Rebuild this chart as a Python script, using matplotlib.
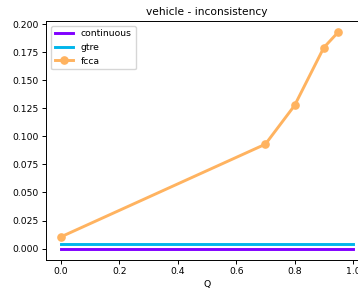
import matplotlib
matplotlib.use('Agg')
import matplotlib.pyplot as plt

q_flat = [0.0, 1.0]
continuous = [0.0, 0.0]
gtre = [0.0038, 0.0038]
q_fcca = [0.0, 0.7, 0.8, 0.9, 0.95]
fcca = [0.0105, 0.093, 0.1275, 0.179, 0.193]

plt.rcParams.update({'font.size': 6.7, 'axes.titlesize': 7.7})

fig = plt.figure(figsize=(3.58, 2.88), dpi=100)
ax = fig.add_axes([46.4 / 358, 28.5 / 288, (367.6 - 46.4) / 358, (267 - 28.5) / 288])

ax.plot(q_flat, continuous, color='#8000ff', linewidth=2.1, label='continuous')
ax.plot(q_flat, gtre, color='#00b5eb', linewidth=2.1, label='gtre')
ax.plot(q_fcca, fcca, color='#ffb360', linewidth=2.1, marker='o', markersize=5.2, label='fcca')

ax.set_xlim(-0.05, 1.05)
ax.set_ylim(-0.0097, 0.2027)
ax.set_xticks([0.0, 0.2, 0.4, 0.6, 0.8, 1.0])
ax.set_yticks([0.0, 0.025, 0.05, 0.075, 0.1, 0.125, 0.15, 0.175, 0.2])
ax.tick_params(length=3, width=0.7, pad=2.5)
for s in ax.spines.values():
    s.set_linewidth(0.7)
ax.set_xlabel('Q', labelpad=3)
ax.set_title('vehicle - inconsistency', pad=4.5)
ax.legend(loc='upper left')

fig.savefig('out.png', dpi=100)
